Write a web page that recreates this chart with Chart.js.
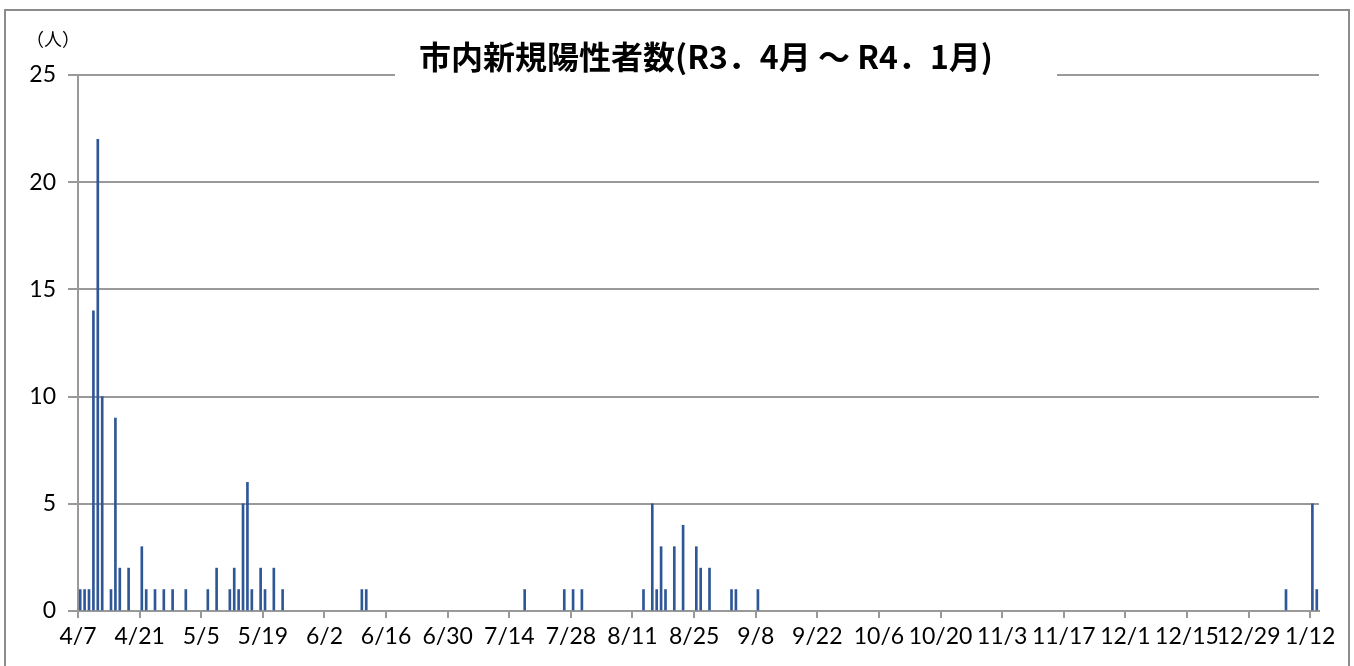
<!DOCTYPE html>
<html>
<head>
<meta charset="utf-8">
<script src="https://cdn.jsdelivr.net/npm/chart.js@4/dist/chart.umd.min.js"></script>
<style>
  html, body { margin: 0; padding: 0; background: #fff; overflow: hidden; }
  #frame { position: absolute; left: 4px; top: 9px; width: 1342px; height: 700px; border: 2px solid #8c8c8c; }
  #c { position: absolute; left: 0; top: 0; }
</style>
</head>
<body>
<div id="frame"></div>
<canvas id="c" width="1354" height="666"></canvas>
<script>
// ---- data ----
const startDate = '2021-04-07';
const totalDays = 282; // 4/7 .. 1/13
const caseDates = [
  '2021-04-07','2021-04-08','2021-04-09','2021-04-10','2021-04-11','2021-04-12','2021-04-14','2021-04-15','2021-04-16','2021-04-18',
  '2021-04-21','2021-04-22','2021-04-24','2021-04-26','2021-04-28','2021-05-01','2021-05-06','2021-05-08','2021-05-11','2021-05-12',
  '2021-05-13','2021-05-14','2021-05-15','2021-05-16','2021-05-18','2021-05-19','2021-05-21','2021-05-23','2021-06-10','2021-06-11',
  '2021-07-17','2021-07-26','2021-07-28','2021-07-30','2021-08-13','2021-08-15','2021-08-16','2021-08-17','2021-08-18','2021-08-20',
  '2021-08-22','2021-08-25','2021-08-26','2021-08-28','2021-09-02','2021-09-03','2021-09-08','2022-01-06','2022-01-12','2022-01-13'
];
const caseCounts = [
  1,1,1,14,22,10,1,9,2,2,
  3,1,1,1,1,1,1,2,1,2,
  1,5,6,1,2,1,2,1,1,1,
  1,1,1,1,1,5,1,3,1,3,
  4,3,2,2,1,1,1,1,5,1
];
const tickLabels = ['4/7','4/21','5/5','5/19','6/2','6/16','6/30','7/14','7/28','8/11','8/25','9/8','9/22','10/6','10/20','11/3','11/17','12/1','12/15','12/29','1/12'];
const tickStepDays = 14;
const yTicks = [0, 5, 10, 15, 20, 25];
const titleText = '市内新規陽性者数(R3．4月 ～ R4．1月)';
const unitText = '（人）';

// ---- build ----
const dayMs = 86400000;
const t0 = Date.parse(startDate + 'T00:00:00Z');
const points = caseDates.map((d, i) => ({
  x: Math.round((Date.parse(d + 'T00:00:00Z') - t0) / dayMs) + 0.5,
  y: caseCounts[i]
}));

const GRID = '#999999';
const tickFont = { family: 'Lato, "Noto Sans", sans-serif', size: 23 };

const overlay = {
  id: 'overlay',
  afterDraw(chart) {
    const ctx = chart.ctx;
    ctx.save();
    ctx.fillStyle = '#ffffff';
    ctx.fillRect(395, 71, 662, 8);
    ctx.fillStyle = '#000000';
    ctx.textAlign = 'center';
    ctx.textBaseline = 'middle';
    ctx.font = 'bold 32px "Noto Sans CJK JP", sans-serif';
    ctx.fillText(titleText, 706, 57);
    ctx.textAlign = 'left';
    ctx.font = '18px "Noto Sans CJK JP", sans-serif';
    ctx.fillText(unitText, 26, 39);
    ctx.restore();
  }
};

new Chart(document.getElementById('c'), {
  type: 'bar',
  data: {
    datasets: [{
      data: points,
      backgroundColor: '#2f5797',
      borderWidth: 0,
      barThickness: 2
    }]
  },
  options: {
    responsive: false,
    animation: false,
    layout: { padding: { left: 10, top: 75, right: 35, bottom: 0 } },
    plugins: { legend: { display: false }, tooltip: { enabled: false }, title: { display: false } },
    scales: {
      x: {
        type: 'linear',
        min: 0,
        max: totalDays,
        offset: false,
        afterFit(s) { s.height = 55; },
        afterBuildTicks(s) { s.ticks = tickLabels.map((_, i) => ({ value: i * tickStepDays })); },
        ticks: {
          autoSkip: false, maxRotation: 0, minRotation: 0, padding: 5,
          color: '#000', font: tickFont,
          callback: (v) => tickLabels[Math.round(v / tickStepDays)]
        },
        grid: { offset: false, drawOnChartArea: false, drawTicks: true, tickLength: 7, color: GRID, lineWidth: 2 },
        border: { display: true, color: GRID, width: 2 }
      },
      y: {
        min: 0,
        max: 25,
        afterFit(s) { s.width = 68; },
        afterBuildTicks(s) { s.ticks = yTicks.map(v => ({ value: v })); },
        ticks: { color: '#000', font: tickFont, padding: 12 },
        grid: { color: GRID, lineWidth: 2, drawTicks: true, tickLength: 10 },
        border: { display: true, color: GRID, width: 2 }
      }
    }
  },
  plugins: [overlay]
});
</script>
</body>
</html>
